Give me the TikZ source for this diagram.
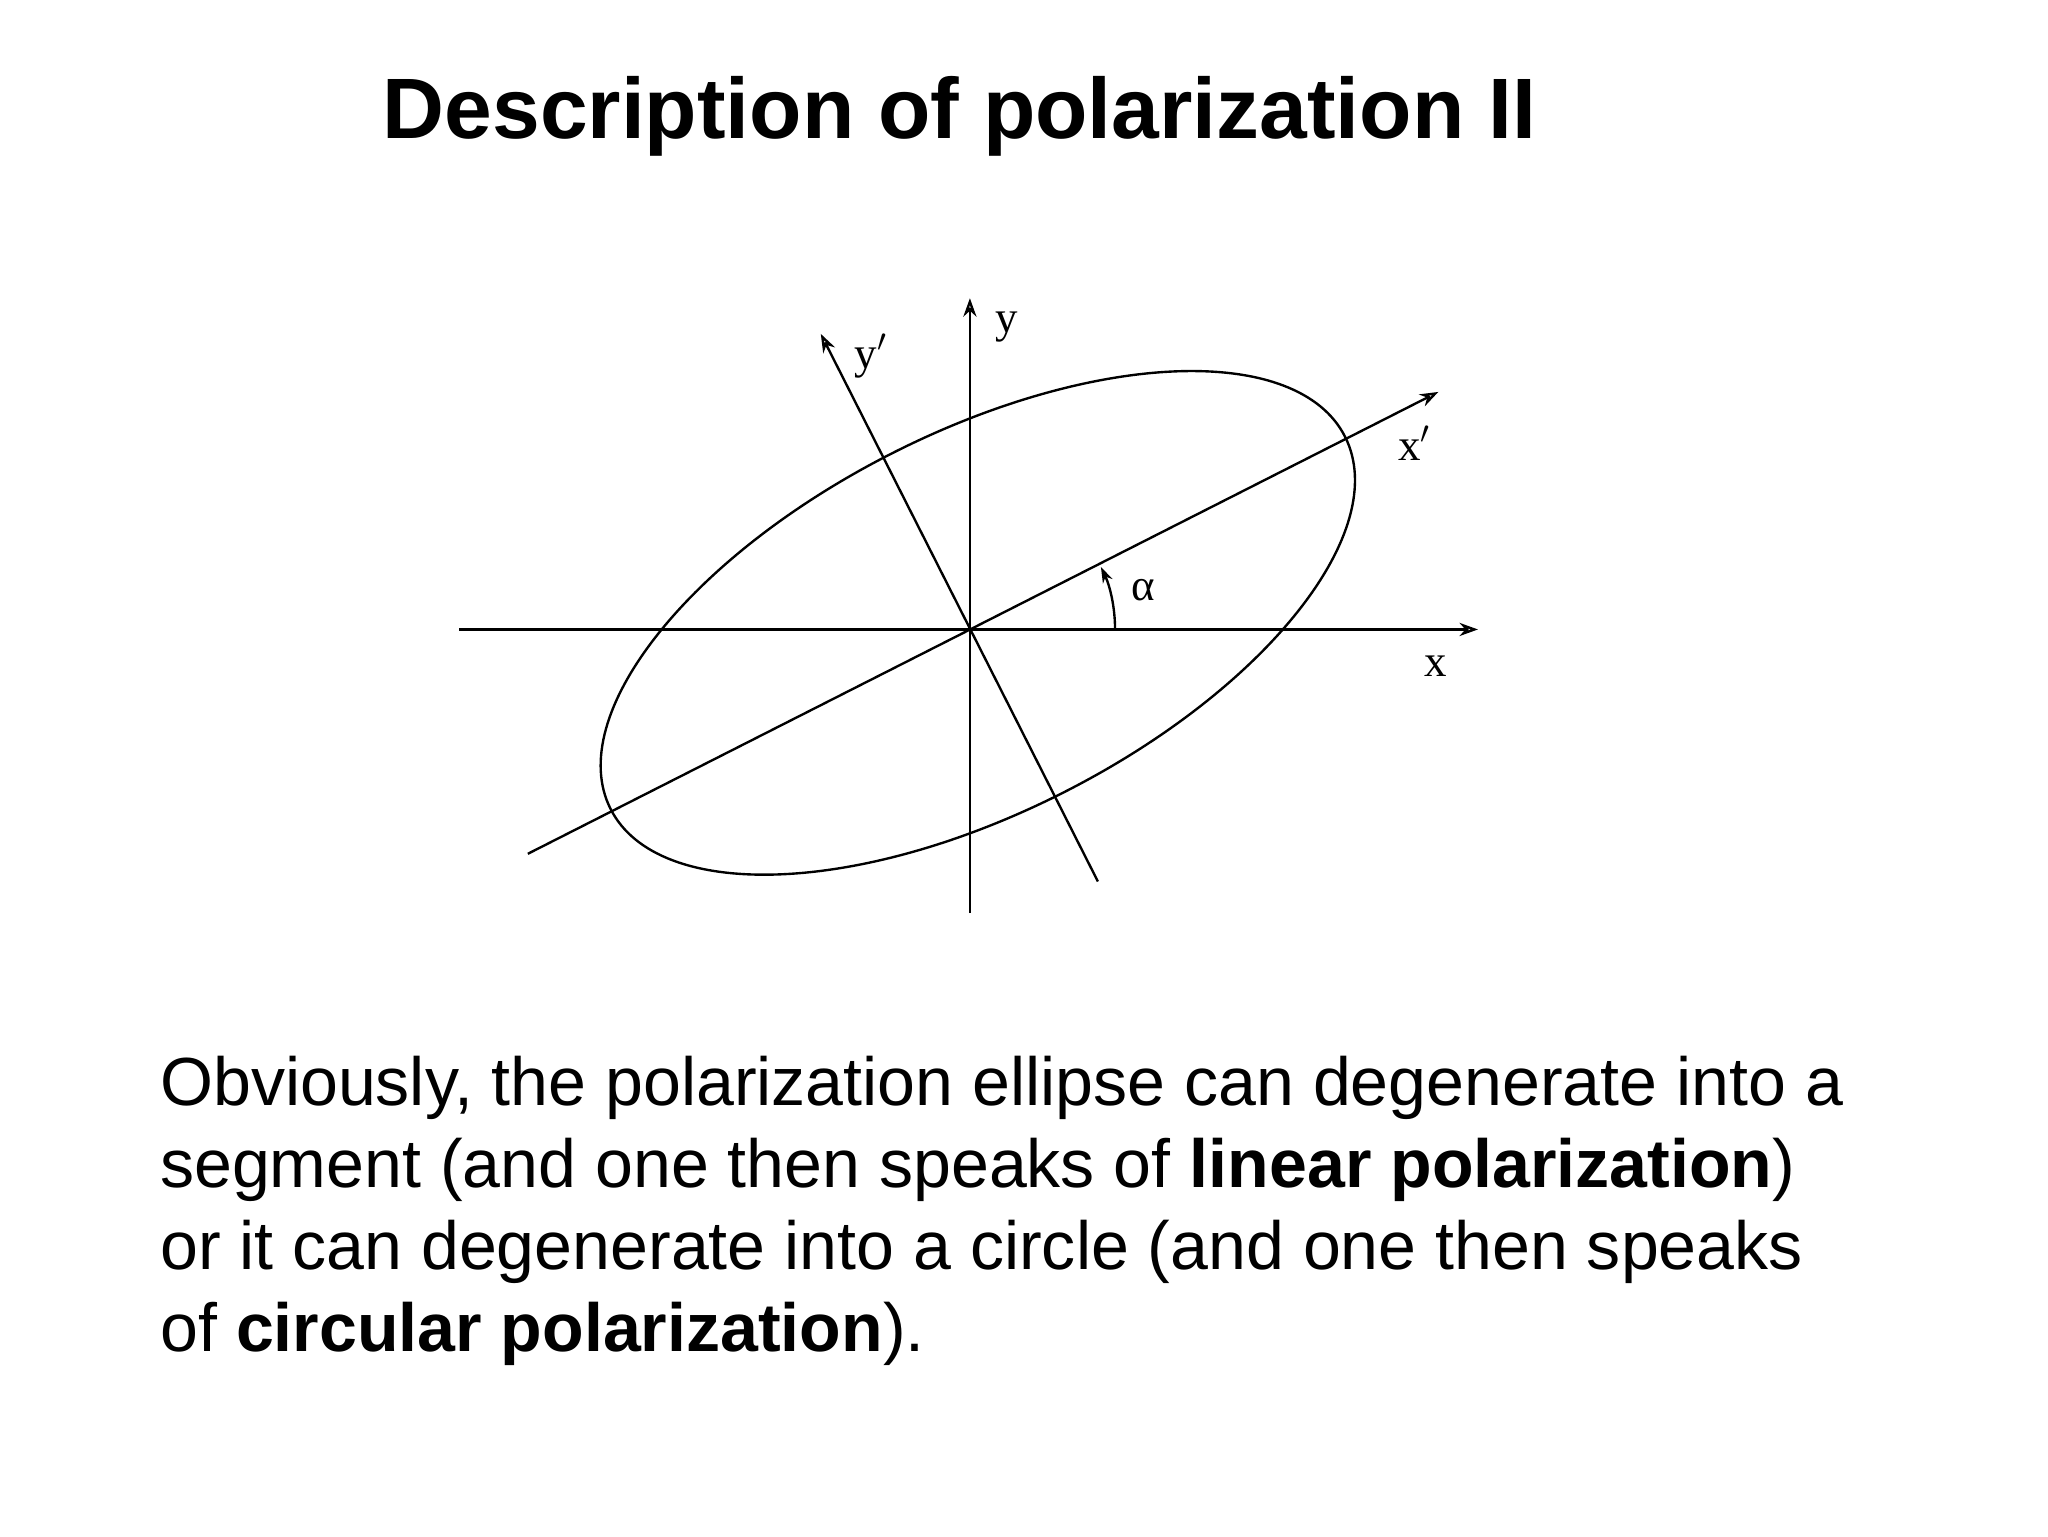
\documentclass[tikz,border=0pt]{standalone}
\usepackage{fontspec}
\setmainfont{Liberation Sans}
\newfontfamily\labfont{Liberation Serif}
\usetikzlibrary{arrows.meta}
\begin{document}
\begin{tikzpicture}[x=0.5pt,y=-0.5pt,
  ax/.style={line width=0.9pt,-{Stealth[length=7pt,width=5pt,open]}},
  lab/.style={font=\labfont\fontsize{17}{17}\selectfont,inner sep=0pt}]
\useasboundingbox (0,0) rectangle (1552,1164);
\node[font=\bfseries\fontsize{32.5}{32.5}\selectfont] (title) at (727,88) {Description of polarization II};
\coordinate (O) at (735,477);
\coordinate (xs) at (348,477); \coordinate (xe) at (1120,477);
\coordinate (ys) at (735,692); \coordinate (ye) at (735,226);
\coordinate (xps) at (400,647); \coordinate (xpe) at (1090,297);
\coordinate (yps) at (832,668); \coordinate (ype) at (622,253);
\draw[ax] (xs) -- (xe);
\draw[ax] (ys) -- (ye);
\draw[ax] (xps) -- (xpe);
\draw[ax] (yps) -- (ype);
\draw[line width=0.9pt,rotate around={26.9:(741,472)}] (741,472) ellipse [x radius=312,y radius=144];
\draw[line width=0.9pt,-{Stealth[length=6pt,width=4pt,open]}] (845,477) arc[start angle=0,end angle=25.5,x radius=110,y radius=-110];
\node[lab] (al) at (866,447) {α};
\node[lab] (lx) at (1088,505) {x};
\node[lab] (ly) at (763,248) {y};
\node[lab] (lxp) at (1072,336) {x$'$};
\node[lab] (lyp) at (660,270) {y$'$};
\node[anchor=north west,align=left,inner sep=0pt,font=\fontsize{25.8}{31}\selectfont] (body) at (121,800)
{Obviously, the polarization ellipse can degenerate into a\\
segment (and one then speaks of \textbf{linear polarization})\\
or it can degenerate into a circle (and one then speaks\\
of \textbf{circular polarization}).};
\end{tikzpicture}
\end{document}
